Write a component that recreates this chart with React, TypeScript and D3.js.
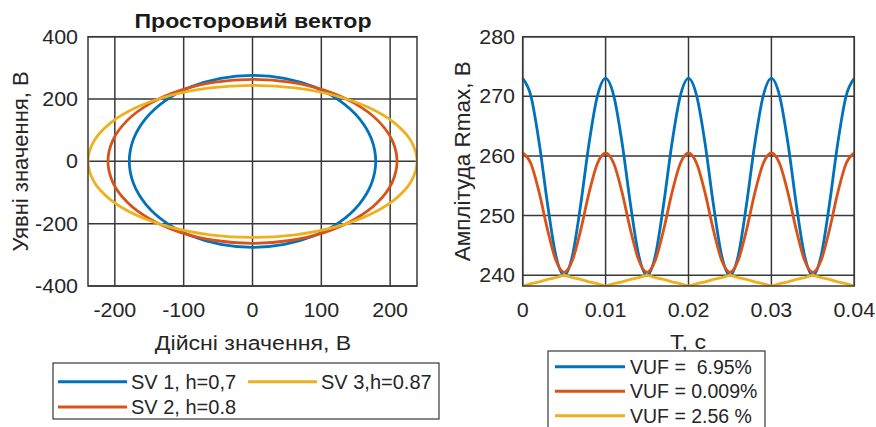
import React from "react";
import * as d3 from "d3";

// ---------- Data ----------
// Left plot: first-quadrant samples (every 15°) of each space-vector locus, in volts
const SV1_X = [179, 172.9, 155.0, 126.6, 89.5, 46.3, 0];
const SV1_Y = [0, 71.4, 138.0, 195.2, 239.0, 266.6, 276];
const SV2_X = [210, 202.8, 181.9, 148.5, 105.0, 54.3, 0];
const SV2_Y = [0, 68.1, 131.5, 186.0, 227.8, 254.0, 263];
const SV3_X = [239, 230.9, 207.0, 169.0, 119.5, 61.9, 0];
const SV3_Y = [0, 63.1, 122.0, 172.5, 211.3, 235.7, 244];
const SV_LABELS = ["SV 1, h=0,7", "SV 2, h=0.8", "SV 3,h=0.87"];
const LEFT_X_TICKS = [-200, -100, 0, 100, 200];
const LEFT_Y_TICKS = [-400, -200, 0, 200, 400];

// Right plot: amplitude Rmax sampled every 1 ms, 0 … 0.04 s
const TIME = d3.range(41).map((i) => i * 0.001);
const R_VUF1 = [
  273.0, 270.0, 262.1, 251.9, 243.3, 240.0, 243.3, 251.9, 262.1, 270.0,
  273.0, 270.0, 262.1, 251.9, 243.3, 240.0, 243.3, 251.9, 262.1, 270.0,
  273.0, 270.0, 262.1, 251.9, 243.3, 240.0, 243.3, 251.9, 262.1, 270.0,
  273.0, 270.0, 262.1, 251.9, 243.3, 240.0, 243.3, 251.9, 262.1, 270.0,
  273.0,
];
const R_VUF2 = [
  260.5, 258.7, 253.8, 247.6, 242.5, 240.5, 242.5, 247.6, 253.8, 258.7,
  260.5, 258.7, 253.8, 247.6, 242.5, 240.5, 242.5, 247.6, 253.8, 258.7,
  260.5, 258.7, 253.8, 247.6, 242.5, 240.5, 242.5, 247.6, 253.8, 258.7,
  260.5, 258.7, 253.8, 247.6, 242.5, 240.5, 242.5, 247.6, 253.8, 258.7,
  260.5,
];
const R_VUF3 = [
  238.2, 238.6, 238.9, 239.3, 239.6, 240.0, 239.6, 239.3, 238.9, 238.6,
  238.2, 238.6, 238.9, 239.3, 239.6, 240.0, 239.6, 239.3, 238.9, 238.6,
  238.2, 238.6, 238.9, 239.3, 239.6, 240.0, 239.6, 239.3, 238.9, 238.6,
  238.2, 238.6, 238.9, 239.3, 239.6, 240.0, 239.6, 239.3, 238.9, 238.6,
  238.2,
];
const VUF_LABELS = ["VUF =  6.95%", "VUF = 0.009%", "VUF = 2.56 %"];
const RIGHT_X_TICKS = [0, 0.01, 0.02, 0.03, 0.04];
const RIGHT_Y_TICKS = [240, 250, 260, 270, 280];

const COLORS = ["#0072BD", "#D95319", "#EDB120"];
const FONT = "'Liberation Sans', Arial, Helvetica, sans-serif";
const GRID = "#383838";
const TXT = "#262626";

function loop(qx: number[], qy: number[]): [number, number][] {
  const pts: [number, number][] = [];
  for (let i = 0; i <= 6; i++) pts.push([qx[i], qy[i]]);
  for (let i = 5; i >= 0; i--) pts.push([-qx[i], qy[i]]);
  for (let i = 1; i <= 6; i++) pts.push([-qx[i], -qy[i]]);
  for (let i = 5; i >= 1; i--) pts.push([qx[i], -qy[i]]);
  return pts;
}

function Txt(props: {
  x: number;
  y: number;
  size: number;
  sx?: number;
  rot?: number;
  anchor?: "start" | "middle" | "end";
  bold?: boolean;
  fill?: string;
  children: React.ReactNode;
}) {
  const { x, y, size, sx = 1, rot = 0, anchor = "middle", bold = false, fill = TXT } = props;
  return (
    <text
      transform={`translate(${x},${y}) rotate(${rot}) scale(${sx},1)`}
      textAnchor={anchor}
      dominantBaseline="central"
      fontSize={size}
      fontWeight={bold ? "bold" : "normal"}
      fill={fill}
      style={{ whiteSpace: "pre" }}
    >
      {props.children}
    </text>
  );
}

export default function App() {
  // Left axes
  const xL = d3.scaleLinear().domain([-239, 239]).range([88, 417]);
  const yL = d3.scaleLinear().domain([-400, 400]).range([286, 36.7]);
  // Right axes
  const xR = d3.scaleLinear().domain([0, 0.04]).range([522.7, 854.3]);
  const yR = d3.scaleLinear().domain([238.2, 280]).range([286, 36.7]);

  const loops = [loop(SV1_X, SV1_Y), loop(SV2_X, SV2_Y), loop(SV3_X, SV3_Y)];
  const ellLine = d3
    .line<[number, number]>()
    .x((d) => xL(d[0]))
    .y((d) => yL(d[1]))
    .curve(d3.curveCatmullRomClosed);

  const series = [R_VUF1, R_VUF2, R_VUF3];
  const rLine = (vals: number[], smooth: boolean) =>
    d3
      .line<number>()
      .x((_, i) => xR(TIME[i]))
      .y((d) => yR(d))
      .curve(smooth ? d3.curveMonotoneX : d3.curveLinear)(vals) || "";

  const [lx0, lx1] = xL.range();
  const [ly0, ly1] = yL.range();
  const [rx0, rx1] = xR.range();
  const [ry0, ry1] = yR.range();

  const TICK = 19.5;
  const TSX = 1.1;

  return (
    <svg
      width={876}
      height={427}
      style={{ position: "absolute", left: 0, top: 0, background: "#fff" }}
      fontFamily={FONT}
    >
      <defs>
        <clipPath id="clipL">
          <rect x={lx0} y={ly1} width={lx1 - lx0} height={ly0 - ly1} />
        </clipPath>
        <clipPath id="clipR">
          <rect x={rx0} y={ry1} width={rx1 - rx0} height={ry0 - ry1} />
        </clipPath>
      </defs>
      <rect width={876} height={427} fill="#fff" />

      {/* ---------- Left plot ---------- */}
      <Txt x={253} y={21} size={21} sx={1.1} bold fill="#1a1a1a">
        Просторовий вектор
      </Txt>
      {LEFT_X_TICKS.map((t) => (
        <line key={"lgx" + t} x1={xL(t)} x2={xL(t)} y1={ly0} y2={ly1} stroke={GRID} strokeWidth={1.5} />
      ))}
      {LEFT_Y_TICKS.map((t) => (
        <line key={"lgy" + t} x1={lx0} x2={lx1} y1={yL(t)} y2={yL(t)} stroke={GRID} strokeWidth={1.5} />
      ))}
      <g clipPath="url(#clipL)">
        {loops.map((pts, i) => (
          <path key={"ell" + i} d={ellLine(pts) || ""} fill="none" stroke={COLORS[i]} strokeWidth={2.8} />
        ))}
      </g>
      <rect x={lx0} y={ly1} width={lx1 - lx0} height={ly0 - ly1} fill="none" stroke={GRID} strokeWidth={1.5} />
      {LEFT_X_TICKS.map((t) => (
        <Txt key={"lxt" + t} x={xL(t)} y={310} size={TICK} sx={TSX}>
          {String(t)}
        </Txt>
      ))}
      {LEFT_Y_TICKS.map((t) => (
        <Txt key={"lyt" + t} x={78} y={yL(t)} size={TICK} sx={TSX} anchor="end">
          {String(t)}
        </Txt>
      ))}
      <Txt x={253} y={343} size={21} sx={1.1}>
        Дійсні значення, В
      </Txt>
      <Txt x={20} y={(ly0 + ly1) / 2} size={22} rot={-90}>
        Уявні значення, В
      </Txt>

      {/* Left legend */}
      <rect x={53} y={363} width={386} height={56} fill="#fff" stroke={GRID} strokeWidth={1.2} />
      {[
        { i: 0, x: 58, y: 381.7 },
        { i: 1, x: 58, y: 407 },
        { i: 2, x: 248, y: 381.7 },
      ].map(({ i, x, y }) => (
        <g key={"ll" + i}>
          <line x1={x} x2={x + 69} y1={y} y2={y} stroke={COLORS[i]} strokeWidth={3} />
          <Txt x={x + 73} y={y} size={20} anchor="start">
            {SV_LABELS[i]}
          </Txt>
        </g>
      ))}

      {/* ---------- Right plot ---------- */}
      {RIGHT_X_TICKS.map((t) => (
        <line key={"rgx" + t} x1={xR(t)} x2={xR(t)} y1={ry0} y2={ry1} stroke={GRID} strokeWidth={1.5} />
      ))}
      {RIGHT_Y_TICKS.map((t) => (
        <line key={"rgy" + t} x1={rx0} x2={rx1} y1={yR(t)} y2={yR(t)} stroke={GRID} strokeWidth={1.5} />
      ))}
      <g clipPath="url(#clipR)">
        {series.map((vals, i) => (
          <path key={"rs" + i} d={rLine(vals, i < 2)} fill="none" stroke={COLORS[i]} strokeWidth={2.8} />
        ))}
      </g>
      <rect x={rx0} y={ry1} width={rx1 - rx0} height={ry0 - ry1} fill="none" stroke={GRID} strokeWidth={1.5} />
      {RIGHT_X_TICKS.map((t) => (
        <Txt key={"rxt" + t} x={xR(t)} y={310} size={TICK} sx={TSX}>
          {String(t)}
        </Txt>
      ))}
      {RIGHT_Y_TICKS.map((t) => (
        <Txt key={"ryt" + t} x={515} y={yR(t)} size={TICK} sx={TSX} anchor="end">
          {String(t)}
        </Txt>
      ))}
      <Txt x={688} y={342} size={21} sx={1.1}>
        T, c
      </Txt>
      <Txt x={462} y={(ry0 + ry1) / 2} size={22.5} rot={-90}>
        Амплітуда Rmax, В
      </Txt>

      {/* Right legend */}
      <rect x={548} y={351} width={217} height={90} fill="#fff" stroke={GRID} strokeWidth={1.2} />
      {[366.7, 391.2, 415.7].map((y, i) => (
        <g key={"rl" + i}>
          <line x1={555} x2={625} y1={y} y2={y} stroke={COLORS[i]} strokeWidth={3} />
          <Txt x={630} y={y} size={19.5} anchor="start">
            {VUF_LABELS[i]}
          </Txt>
        </g>
      ))}
    </svg>
  );
}
